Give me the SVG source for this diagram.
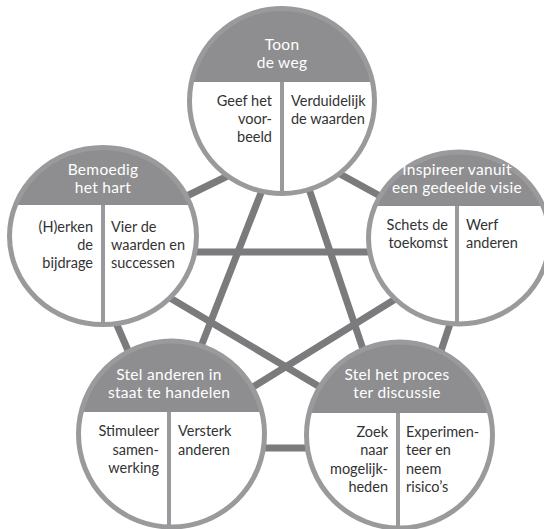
<svg xmlns="http://www.w3.org/2000/svg" width="544" height="529" viewBox="0 0 544 529">
<style>
.body{fill:#fff}
.ring{fill:none;stroke:#9a9a9c;stroke-width:5}
.hdr{fill:#8e8e90}
.dv{stroke:#9a9a9c;stroke-width:4}
#connectors line{stroke:#7b7b7e;stroke-width:7}
.ht{font-family:Lato,"Open Sans",sans-serif;font-size:15.5px;letter-spacing:0.3px;fill:#fff;text-anchor:middle}
.bt{font-family:Lato,"Open Sans",sans-serif;font-size:14.5px;fill:#333}
.r{text-anchor:end}
</style>
<defs>
<clipPath id="c1"><circle cx="282" cy="101" r="92.5"/></clipPath>
<clipPath id="c2"><ellipse cx="103" cy="236" rx="93.5" ry="88.5"/></clipPath>
<clipPath id="c3"><ellipse cx="459" cy="238" rx="90.5" ry="86"/></clipPath>
<clipPath id="c4"><circle cx="171.5" cy="434" r="93"/></clipPath>
<clipPath id="c5"><circle cx="399.5" cy="435" r="93"/></clipPath>
</defs>
<rect width="544" height="529" fill="#fff"/>
<g id="connectors">
<line x1="150" y1="214" x2="250" y2="165"/>
<line x1="320" y1="163" x2="420" y2="218"/>
<line x1="110" y1="309" x2="140" y2="378"/>
<line x1="455" y1="309" x2="430" y2="384"/>
<line x1="250" y1="448" x2="320" y2="448"/>
<line x1="150" y1="252" x2="420" y2="252"/>
<line x1="266" y1="180" x2="195" y2="362"/>
<line x1="306" y1="180" x2="370" y2="370"/>
<line x1="160" y1="292" x2="330" y2="393"/>
<line x1="410" y1="290" x2="240" y2="395"/>
</g>
<g id="toon-de-weg">
<circle cx="282" cy="101" r="92.5" class="body"/>
<rect x="180" y="0" width="204" height="82" class="hdr" clip-path="url(#c1)"/>
<line x1="282" y1="82" x2="282" y2="196" class="dv"/>
<circle cx="282" cy="101" r="92.5" class="ring"/>
<text class="ht" x="282" y="50">Toon<tspan x="282" dy="18">de weg</tspan></text>
<text class="bt r" x="272" y="106">Geef het<tspan x="272" dy="18">voor-</tspan><tspan x="272" dy="18">beeld</tspan></text>
<text class="bt" x="291" y="106">Verduidelijk<tspan x="291" dy="18">de waarden</tspan></text>
</g>
<g id="bemoedig-het-hart">
<ellipse cx="103" cy="236" rx="93.5" ry="88.5" class="body"/>
<rect x="0" y="140" width="200" height="65" class="hdr" clip-path="url(#c2)"/>
<line x1="103" y1="205" x2="103" y2="326" class="dv"/>
<ellipse cx="103" cy="236" rx="93.5" ry="88.5" class="ring"/>
<text class="ht" x="103" y="175">Bemoedig<tspan x="103" dy="18">het hart</tspan></text>
<text class="bt r" x="93" y="232">(H)erken<tspan x="93" dy="18">de</tspan><tspan x="93" dy="18">bijdrage</tspan></text>
<text class="bt" x="111" y="232">Vier de<tspan x="111" dy="18">waarden en</tspan><tspan x="111" dy="18">successen</tspan></text>
</g>
<g id="inspireer-vanuit-een-gedeelde-visie">
<ellipse cx="459" cy="238" rx="90.5" ry="86" class="body"/>
<rect x="360" y="140" width="200" height="66" class="hdr" clip-path="url(#c3)"/>
<line x1="457" y1="206" x2="457" y2="326" class="dv"/>
<ellipse cx="459" cy="238" rx="90.5" ry="86" class="ring"/>
<text class="ht" x="457" y="175">Inspireer vanuit<tspan x="457" dy="18">een gedeelde visie</tspan></text>
<text class="bt r" x="448" y="230">Schets de<tspan x="448" dy="18">toekomst</tspan></text>
<text class="bt" x="466" y="230">Werf<tspan x="466" dy="18">anderen</tspan></text>
</g>
<g id="stel-anderen-in-staat-te-handelen">
<circle cx="171.5" cy="434" r="93" class="body"/>
<rect x="70" y="330" width="205" height="82" class="hdr" clip-path="url(#c4)"/>
<line x1="169" y1="412" x2="169" y2="529" class="dv"/>
<circle cx="171.5" cy="434" r="93" class="ring"/>
<text class="ht" x="169" y="380">Stel anderen in<tspan x="169" dy="18">staat te handelen</tspan></text>
<text class="bt r" x="159" y="436">Stimuleer<tspan x="159" dy="18.5">samen-</tspan><tspan x="159" dy="18.5">werking</tspan></text>
<text class="bt" x="178" y="436">Versterk<tspan x="178" dy="18.5">anderen</tspan></text>
</g>
<g id="stel-het-proces-ter-discussie">
<circle cx="399.5" cy="435" r="93" class="body"/>
<rect x="300" y="330" width="205" height="83" class="hdr" clip-path="url(#c5)"/>
<line x1="398" y1="413" x2="398" y2="529" class="dv"/>
<circle cx="399.5" cy="435" r="93" class="ring"/>
<text class="ht" x="397" y="380">Stel het proces<tspan x="397" dy="18">ter discussie</tspan></text>
<text class="bt r" x="388" y="437">Zoek<tspan x="388" dy="18.3">naar</tspan><tspan x="388" dy="18.3">mogelijk-</tspan><tspan x="388" dy="18.3">heden</tspan></text>
<text class="bt" x="406" y="437">Experimen-<tspan x="406" dy="18.3">teer en</tspan><tspan x="406" dy="18.3">neem</tspan><tspan x="406" dy="18.3">risico’s</tspan></text>
</g>
</svg>
